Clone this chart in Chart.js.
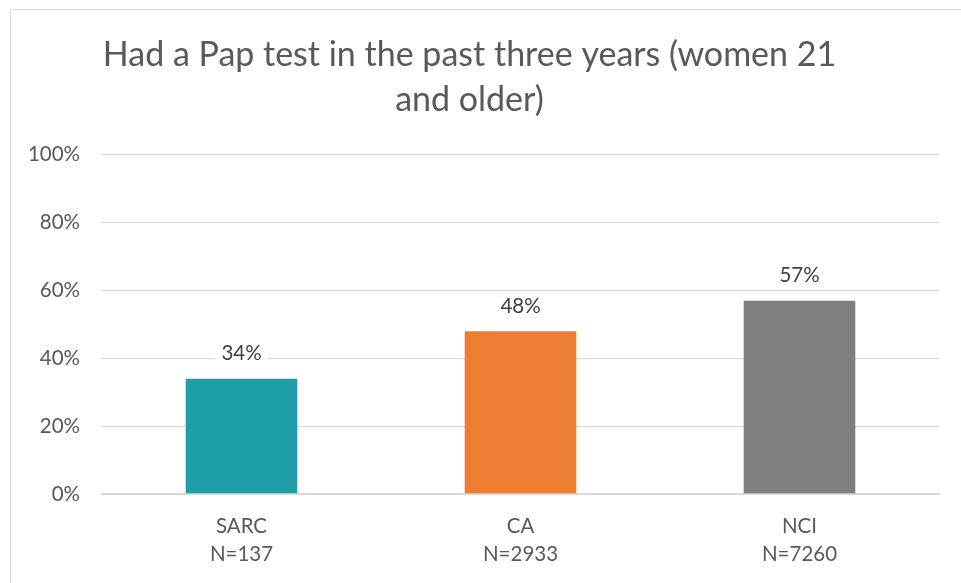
<!DOCTYPE html>
<html>
<head>
<meta charset="utf-8">
<script src="https://cdn.jsdelivr.net/npm/chart.js@4/dist/chart.umd.min.js"></script>
<style>
  html, body { margin: 0; padding: 0; background: #ffffff; }
  #frame {
    position: absolute; left: 10px; top: 9px; width: 970px; height: 600px;
    border: 1.5px solid #d9d9d9; box-sizing: border-box;
  }
  #wrap { position: absolute; left: 0; top: 0; width: 961px; height: 583px; }
</style>
</head>
<body>
<div id="frame"></div>
<div id="wrap"><canvas id="chart" width="961" height="583"></canvas></div>
<script>
const titleLines = ['Had a Pap test in the past three years (women 21', 'and older)'];
const categories = [['SARC', 'N=137'], ['CA', 'N=2933'], ['NCI', 'N=7260']];
const values = [34, 48, 57];
const barColors = ['#1f9ea8', '#ed7d31', '#7f7f7f'];
const tickValues = [0, 20, 40, 60, 80, 100];

const FONT = 'Lato, "Open Sans", sans-serif';
const TEXT = '#595959';

// value labels above each bar, on a white box that hides the gridline behind
const valueLabels = {
  id: 'valueLabels',
  afterDatasetsDraw(chart) {
    const ctx = chart.ctx;
    const meta = chart.getDatasetMeta(0);
    ctx.save();
    ctx.font = '20.5px ' + FONT;
    ctx.textAlign = 'center';
    ctx.textBaseline = 'middle';
    meta.data.forEach((bar, i) => {
      const txt = values[i] + '%';
      const y = bar.y - 25;
      const w = ctx.measureText(txt).width + 12;
      ctx.fillStyle = '#ffffff';
      ctx.fillRect(bar.x - w / 2, y - 13, w, 26);
      ctx.fillStyle = '#404040';
      ctx.fillText(txt, bar.x, y);
    });
    ctx.restore();
  }
};

new Chart(document.getElementById('chart'), {
  type: 'bar',
  data: {
    labels: categories,
    datasets: [{
      data: values,
      backgroundColor: barColors,
      categoryPercentage: 1,
      barPercentage: 0.4
    }]
  },
  options: {
    responsive: false,
    animation: false,
    layout: { padding: { left: 0, right: 22, top: 10, bottom: 15.5 } },
    plugins: {
      legend: { display: false },
      tooltip: { enabled: false },
      title: {
        display: true,
        text: titleLines,
        color: TEXT,
        font: { family: FONT, size: 34, weight: 'normal', lineHeight: 1.32 },
        padding: { top: 22.5, bottom: 32.5 }
      }
    },
    scales: {
      x: {
        afterFit(scale) { scale.height = 73.5; },
        grid: { display: false, drawTicks: false },
        border: { color: '#d9d9d9', width: 2 },
        ticks: {
          color: TEXT,
          font: { family: FONT, size: 20.5, lineHeight: 1.41 },
          padding: 17.5,
          maxRotation: 0
        }
      },
      y: {
        min: 0, max: 100,
        afterFit(scale) { scale.width = 102; },
        afterBuildTicks(scale) { scale.ticks = tickValues.map(v => ({ value: v })); },
        grid: { color: '#d9d9d9', lineWidth: 1.3, drawTicks: false },
        border: { display: false },
        ticks: {
          color: TEXT,
          font: { family: FONT, size: 20.5 },
          padding: 22,
          callback: v => v + '%'
        }
      }
    }
  },
  plugins: [valueLabels]
});
</script>
</body>
</html>
